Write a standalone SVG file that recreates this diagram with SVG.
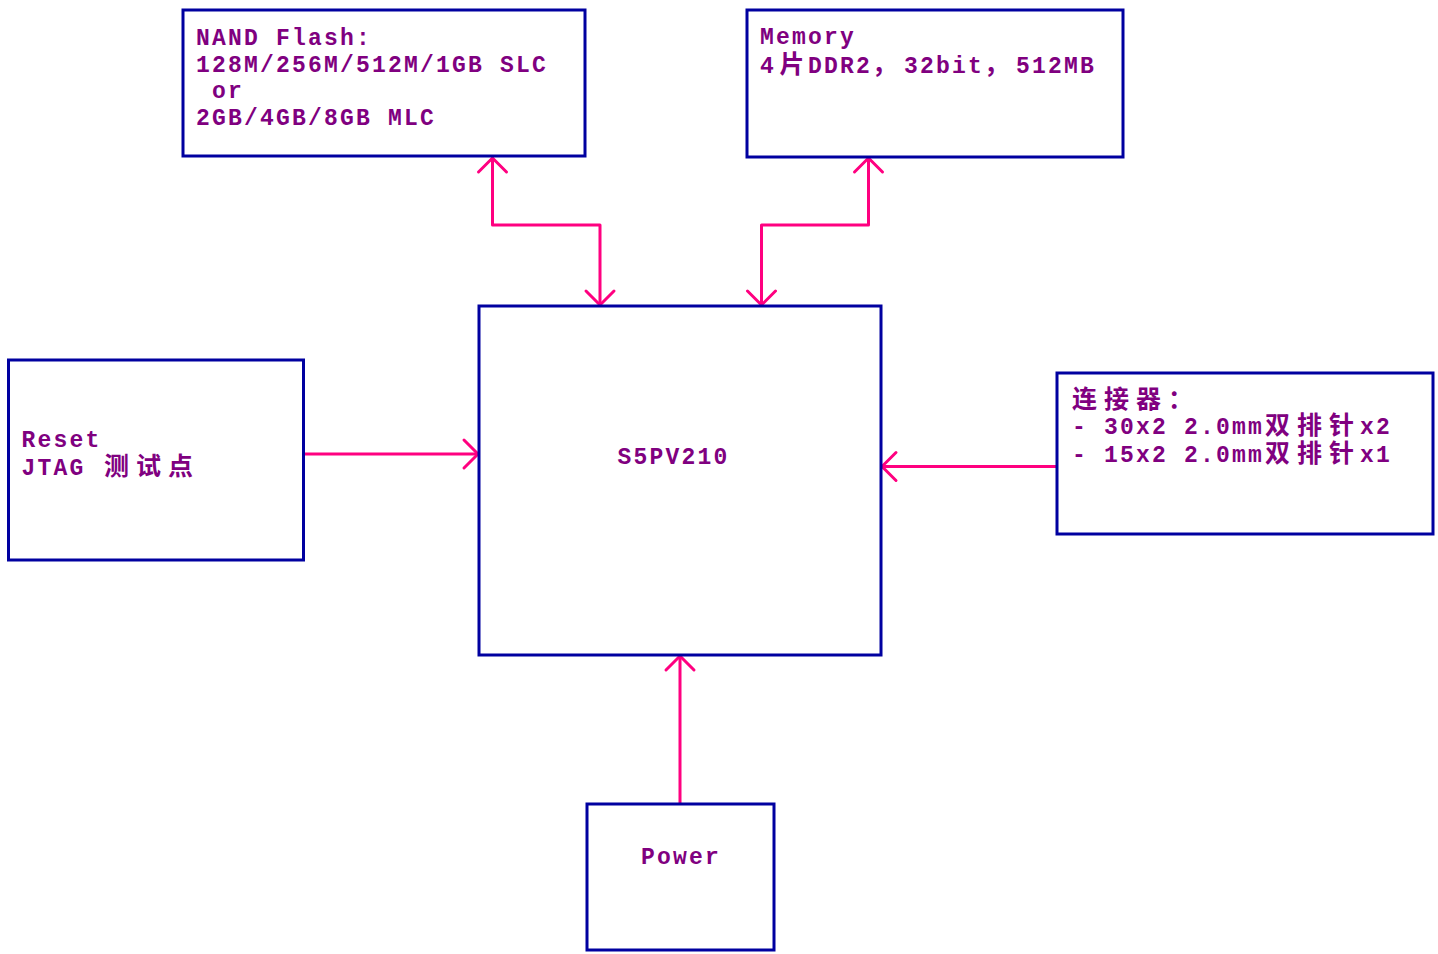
<svg xmlns="http://www.w3.org/2000/svg" width="1438" height="954" viewBox="0 0 1438 954">
<style>
.box{fill:#fff;stroke:#0000a0;stroke-width:3}
.t{font-family:"Liberation Mono","Noto Sans CJK SC",monospace;font-size:23px;letter-spacing:2.2px;font-weight:bold;fill:#800080}
.c{font-family:"Noto Sans CJK SC",sans-serif;font-size:25px;letter-spacing:0;font-weight:bold}
.ln{fill:none;stroke:#ff0080;stroke-width:3;stroke-linejoin:round;stroke-linecap:round}
</style>
<defs>
<marker id="ah" markerUnits="userSpaceOnUse" markerWidth="40" markerHeight="40" viewBox="-20 -20 40 40" refX="0" refY="0" orient="auto-start-reverse">
<path d="M-14,-14 L0,0 L-14,14" fill="none" stroke="#ff0080" stroke-width="3" stroke-linecap="round" stroke-linejoin="round"/>
</marker>
</defs>
<rect width="1438" height="954" fill="#fff"/>
<g id="connectors">
<polyline class="ln" points="492.5,158 492.5,225 600,225 600,305" marker-start="url(#ah)" marker-end="url(#ah)"/>
<polyline class="ln" points="868.5,158 868.5,225 761.5,225 761.5,305" marker-start="url(#ah)" marker-end="url(#ah)"/>
<line class="ln" x1="304" y1="454" x2="478" y2="454" marker-end="url(#ah)"/>
<line class="ln" x1="1056" y1="466.5" x2="882" y2="466.5" marker-end="url(#ah)"/>
<line class="ln" x1="680" y1="803" x2="680" y2="656" marker-end="url(#ah)"/>
</g>
<g id="nand">
<rect class="box" x="183" y="10" width="402" height="146"/>
<text class="t" x="196" y="45">NAND Flash:</text>
<text class="t" x="196" y="71.5">128M/256M/512M/1GB SLC</text>
<text class="t" x="196" y="98" xml:space="preserve"> or</text>
<text class="t" x="196" y="124.5">2GB/4GB/8GB MLC</text>
</g>
<g id="memory">
<rect class="box" x="747" y="10" width="376" height="147"/>
<text class="t" x="760" y="43.5">Memory</text>
<text class="t" y="72.5"><tspan x="760">4</tspan><tspan class="c" x="779.5">片</tspan><tspan x="808">DDR2</tspan><tspan class="c" x="872">，</tspan><tspan x="904">32bit</tspan><tspan class="c" x="984">，</tspan><tspan x="1016">512MB</tspan></text>
</g>
<g id="s5pv210">
<rect class="box" x="479" y="306" width="402" height="349"/>
<text class="t" x="673.5" y="464" text-anchor="middle">S5PV210</text>
</g>
<g id="reset">
<rect class="box" x="8.5" y="360" width="295" height="200"/>
<text class="t" x="21.5" y="446.5">Reset</text>
<text class="t" y="474.5"><tspan x="21.5">JTAG</tspan><tspan class="c" x="104">测</tspan><tspan class="c" x="136">试</tspan><tspan class="c" x="168">点</tspan></text>
</g>
<g id="connector">
<rect class="box" x="1057" y="373" width="376" height="161"/>
<text class="t" y="407.5"><tspan class="c" x="1072">连</tspan><tspan class="c" x="1104">接</tspan><tspan class="c" x="1136">器</tspan><tspan class="c" x="1168">：</tspan></text>
<text class="t" y="433.5"><tspan x="1072" xml:space="preserve">- 30x2 2.0mm</tspan><tspan class="c" x="1265">双</tspan><tspan class="c" x="1297">排</tspan><tspan class="c" x="1329">针</tspan><tspan x="1360">x2</tspan></text>
<text class="t" y="462"><tspan x="1072" xml:space="preserve">- 15x2 2.0mm</tspan><tspan class="c" x="1265">双</tspan><tspan class="c" x="1297">排</tspan><tspan class="c" x="1329">针</tspan><tspan x="1360">x1</tspan></text>
</g>
<g id="power">
<rect class="box" x="587" y="804" width="187" height="146"/>
<text class="t" x="681" y="864" text-anchor="middle">Power</text>
</g>
</svg>
